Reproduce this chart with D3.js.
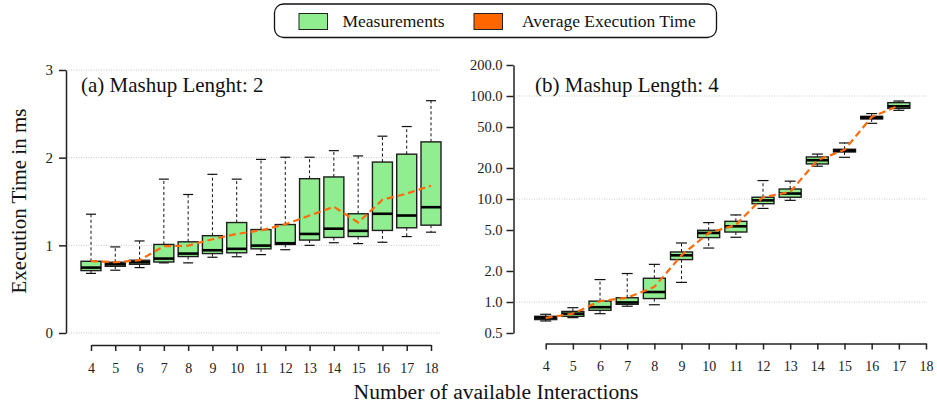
<!DOCTYPE html>
<html>
<head>
<meta charset="utf-8">
<script src="https://cdn.jsdelivr.net/npm/d3@7"></script>
<style>
html,body{margin:0;padding:0;background:#fff;}
svg{display:block;font-family:"Liberation Serif","DejaVu Serif",serif;}
</style>
</head>
<body>
<svg id="chart" width="937" height="407"></svg>
<script>
// ---------- data ----------
const leftCategories = [4,5,6,7,8,9,10,11,12,13,14,15,16,17,18];
const leftWhiskerLow  = [0.68,0.716,0.746,0.80,0.80,0.864,0.87,0.894,0.95,1.0,1.03,1.02,1.035,1.10,1.15];
const leftQ1          = [0.712,0.761,0.784,0.81,0.872,0.906,0.915,0.96,1.01,1.06,1.09,1.10,1.17,1.20,1.23];
const leftMedian      = [0.746,0.784,0.807,0.849,0.906,0.944,0.96,0.997,1.024,1.13,1.19,1.165,1.36,1.34,1.435];
const leftQ3          = [0.818,0.807,0.83,1.01,1.04,1.11,1.26,1.18,1.237,1.76,1.78,1.36,1.95,2.04,2.18];
const leftWhiskerHigh = [1.355,0.982,1.05,1.755,1.58,1.81,1.755,1.98,2.005,2.005,2.08,2.02,2.245,2.355,2.65];
const leftMean        = [0.82,0.807,0.83,0.99,0.996,1.07,1.13,1.17,1.24,1.34,1.44,1.26,1.52,1.59,1.68];

const rightCategories = [4,5,6,7,8,9,10,11,12,13,14,15,16,17];
const rightWhiskerLow  = [0.654,0.705,0.77,0.91,0.94,1.55,3.34,4.25,8.1,9.7,20.8,25.4,54.3,72.6];
const rightQ1          = [0.675,0.726,0.83,0.95,1.08,2.58,4.22,4.78,9.0,10.4,21.9,28.6,59.8,75.9];
const rightMedian      = [0.705,0.77,0.89,0.99,1.25,2.84,4.68,5.43,9.7,11.3,23.8,29.5,61.7,79.4];
const rightQ3          = [0.726,0.81,1.02,1.10,1.70,3.06,4.97,6.07,10.4,12.5,25.6,30.4,63.5,86.2];
const rightWhiskerHigh = [0.76,0.88,1.65,1.89,2.32,3.74,5.9,7.0,15.1,14.9,27.3,35.0,67.5,89.4];
const rightMean        = [0.70,0.77,1.02,1.10,1.40,2.84,4.68,5.6,10.4,11.7,23.8,30.0,62.5,80.7];

const xTickLabels = [4,5,6,7,8,9,10,11,12,13,14,15,16,17,18];
const leftYTicks = [0,1,2,3];
const rightYTicks = [0.5,1,2,5,10,20,50,100,200];
const rightGridTicks = [1,10,100];

const titles = ["(a) Mashup Lenght: 2","(b) Mashup Length: 4"];
const legendLabels = ["Measurements","Average Execution Time"];

// ---------- styles ----------
const boxFill = "#90ee90", boxStroke = "#1e1e1e", meanColor = "#ff6a0a";

const svg = d3.select("#chart");

function makeBoxes(d) {
  return d.cats.map((c,i)=>({c, lo:d.lo[i], q1:d.q1[i], med:d.med[i], q3:d.q3[i], hi:d.hi[i], mean:d.mean[i]}));
}

function drawPanel(cfg) {
  const g = svg.append("g");
  const x = d3.scaleLinear().domain([4,18]).range(cfg.xRange);
  const y = cfg.yScale;

  // gridlines
  g.append("g").selectAll("line").data(cfg.gridTicks).join("line")
    .attr("x1", cfg.gridX[0]).attr("x2", cfg.gridX[1])
    .attr("y1", d=>y(d)).attr("y2", d=>y(d))
    .attr("stroke","#c8c8c8").attr("stroke-width",1).attr("stroke-dasharray","1,1.5");

  // y axis
  const yAxis = d3.axisLeft(y).tickValues(cfg.yTicks).tickFormat(cfg.yFormat).tickSize(7).tickSizeOuter(0).tickPadding(cfg.yPad);
  const ya = g.append("g").attr("transform",`translate(${cfg.yAxisX},0)`).call(yAxis);
  ya.select(".domain").attr("stroke","#222").attr("stroke-width",1.5);
  ya.selectAll(".tick line").attr("stroke","#222").attr("stroke-width",1.5);
  ya.selectAll("text").attr("font-size",cfg.yFont).attr("fill","#222").attr("font-family","Liberation Serif");

  // x axis
  const xAxis = d3.axisBottom(x).tickValues(xTickLabels).tickFormat(d3.format("d")).tickSize(6).tickSizeOuter(0).tickPadding(12);
  const xa = g.append("g").attr("transform",`translate(0,${cfg.xAxisY})`).call(xAxis);
  xa.select(".domain").attr("stroke","#222").attr("stroke-width",1.5);
  xa.selectAll(".tick line").attr("stroke","#222").attr("stroke-width",1.5);
  xa.selectAll("text").attr("font-size",14).attr("fill","#222").attr("font-family","Liberation Serif");

  const boxes = makeBoxes(cfg.data);
  const bw = cfg.boxW;
  const bg = g.append("g");
  // whiskers
  bg.selectAll(".wu").data(boxes).join("line")
    .attr("x1",d=>x(d.c)).attr("x2",d=>x(d.c)).attr("y1",d=>y(d.q3)).attr("y2",d=>y(d.hi))
    .attr("stroke","#111").attr("stroke-width",1).attr("stroke-dasharray","3,2.5");
  bg.selectAll(".wl").data(boxes).join("line")
    .attr("x1",d=>x(d.c)).attr("x2",d=>x(d.c)).attr("y1",d=>y(d.q1)).attr("y2",d=>y(d.lo))
    .attr("stroke","#111").attr("stroke-width",1).attr("stroke-dasharray","3,2.5");
  // caps
  ["hi","lo"].forEach(k=>{
    bg.append("g").selectAll("line").data(boxes).join("line")
      .attr("x1",d=>x(d.c)-bw/4).attr("x2",d=>x(d.c)+bw/4)
      .attr("y1",d=>y(d[k])).attr("y2",d=>y(d[k]))
      .attr("stroke","#111").attr("stroke-width",1.2);
  });
  // boxes
  bg.append("g").selectAll("rect").data(boxes).join("rect")
    .attr("x",d=>x(d.c)-bw/2).attr("width",bw)
    .attr("y",d=>y(d.q3)).attr("height",d=>Math.max(1,y(d.q1)-y(d.q3)))
    .attr("fill",boxFill).attr("stroke",boxStroke).attr("stroke-width",1.4);
  // medians
  bg.append("g").selectAll("line").data(boxes).join("line")
    .attr("x1",d=>x(d.c)-bw/2).attr("x2",d=>x(d.c)+bw/2)
    .attr("y1",d=>y(d.med)).attr("y2",d=>y(d.med))
    .attr("stroke","#000").attr("stroke-width",2.6);

  // mean line
  const line = d3.line().x(d=>x(d.c)).y(d=>y(d.mean));
  g.append("path").datum(boxes).attr("d",line)
    .attr("fill","none").attr("stroke",meanColor).attr("stroke-width",2.2)
    .attr("stroke-dasharray","7,4");

  // title
  g.append("text").attr("x",cfg.titleX).attr("y",cfg.titleY).text(cfg.title)
    .attr("font-size",21).attr("fill","#111");
}

drawPanel({
  xRange:[91,431], yScale:d3.scaleLinear().domain([0,3]).range([333,70]),
  gridTicks:leftYTicks, gridX:[66,440], yTicks:leftYTicks, yFormat:d3.format("d"),
  yAxisX:66, yPad:6, yFont:15, xAxisY:345, boxW:20,
  data:{cats:leftCategories, lo:leftWhiskerLow, q1:leftQ1, med:leftMedian, q3:leftQ3, hi:leftWhiskerHigh, mean:leftMean},
  title:titles[0], titleX:81, titleY:92
});
drawPanel({
  xRange:[545.7,926], yScale:d3.scaleLog().domain([0.5,200]).range([333,65]),
  gridTicks:rightGridTicks, gridX:[514,927], yTicks:rightYTicks, yFormat:d3.format(".1f"),
  yAxisX:513.5, yPad:4, yFont:14.5, xAxisY:343.5, boxW:22,
  data:{cats:rightCategories, lo:rightWhiskerLow, q1:rightQ1, med:rightMedian, q3:rightQ3, hi:rightWhiskerHigh, mean:rightMean},
  title:titles[1], titleX:535, titleY:92
});

// axis labels
svg.append("text").attr("transform","translate(26,201) rotate(-90)").attr("text-anchor","middle")
  .attr("font-size",21).attr("fill","#111").text("Execution Time in ms");
svg.append("text").attr("x",496).attr("y",399).attr("text-anchor","middle")
  .attr("font-size",21.6).attr("fill","#111").text("Number of available Interactions");

// legend
const lg = svg.append("g");
lg.append("rect").attr("x",274.5).attr("y",4).attr("width",442).attr("height",33.5).attr("rx",9)
  .attr("fill","#fff").attr("stroke","#111").attr("stroke-width",1.3);
const legendColors = [boxFill, "#ff6600"];
const legendSwX = [299, 474];
const legendTxX = [342.5, 522];
legendLabels.forEach((t,i)=>{
  lg.append("rect").attr("x",legendSwX[i]).attr("y",13.5).attr("width",28.5).attr("height",16)
    .attr("fill",legendColors[i]).attr("stroke","#222").attr("stroke-width",1);
  lg.append("text").attr("x",legendTxX[i]).attr("y",27).attr("font-size",17.5).attr("fill","#111").text(t);
});
</script>
</body>
</html>
